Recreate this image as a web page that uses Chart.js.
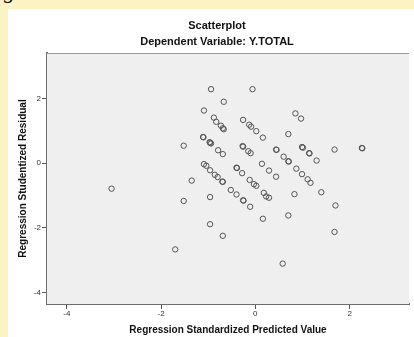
<!DOCTYPE html>
<html>
<head>
<meta charset="utf-8">
<script src="https://cdn.jsdelivr.net/npm/chart.js@4/dist/chart.umd.min.js"></script>
<style>
  html, body { margin: 0; padding: 0; }
  body { width: 414px; height: 337px; background: #fcf3c4; position: relative; overflow: hidden; }
  #panel { position: absolute; left: 8px; top: 9px; right: 0; bottom: 0; background: #ffffff; }
  #hand { position: absolute; left: 4px; top: -22px; font: italic 22px "Liberation Serif", serif; color: #111; }
  #wrap { position: absolute; left: 0; top: 0; width: 414px; height: 337px; }
</style>
</head>
<body>
<div id="panel"></div>
<div id="hand">g</div>
<div id="wrap"><canvas id="chart" width="414" height="337"></canvas></div>
<script>
// values
var predicted = [
  -3.05, -1.52, -1.35, -1.52, -1.70, -0.94, -0.06, -0.67, -1.09, -0.88,
  -0.83, -0.73, -0.69, -0.67, -0.26, -0.13, -0.09, 0.02, -1.11, -1.10,
  -0.97, -0.96, -0.94, -0.79, -0.69, -0.27, -0.26, -0.15, -0.10, -1.09,
  -1.04, -0.96, -0.86, -0.80, -0.70, -0.69, -0.40, -0.39, -0.28, -0.12,
  -0.03, 0.02, -0.52, -0.40, -0.26, -0.25, -0.11, -0.96, -0.96, -0.69,
  0.85, 0.97, 0.70, 0.16, 0.44, 0.45, 0.60, 0.70, 0.71, 0.99,
  1.01, 1.14, 1.15, 1.30, 0.14, 0.29, 0.44, 0.87, 0.99, 1.11,
  1.17, 0.18, 0.23, 0.29, 0.83, 0.16, 0.70, 0.58, 1.68, 2.26,
  2.27, 1.40, 1.70, 1.68
];
var residual = [
  -0.79, 0.54, -0.54, -1.17, -2.67, 2.29, 2.29, 1.90, 1.63, 1.41,
  1.28, 1.16, 1.08, 1.05, 1.34, 1.19, 1.13, 0.99, 0.81, 0.80,
  0.65, 0.63, 0.61, 0.40, 0.28, 0.53, 0.51, 0.37, 0.31, -0.03,
  -0.08, -0.22, -0.36, -0.43, -0.57, -0.58, -0.14, -0.15, -0.31, -0.52,
  -0.65, -0.70, -0.83, -0.97, -1.15, -1.16, -1.35, -1.05, -1.89, -2.25,
  1.54, 1.38, 0.90, 0.79, 0.42, 0.41, 0.20, 0.06, 0.05, 0.50,
  0.48, 0.31, 0.30, 0.08, -0.02, -0.23, -0.42, -0.17, -0.34, -0.50,
  -0.61, -0.92, -1.03, -1.07, -0.96, -1.72, -1.62, -3.11, 0.42, 0.47,
  0.46, -0.90, -1.31, -2.13
];
var xTicks = [-4, -2, 0, 2];
var yTicks = [-4, -2, 0, 2];

var points = [];
for (var i = 0; i < predicted.length; i++) {
  points.push({x: predicted[i], y: residual[i]});
}

var fontFam = '"Liberation Sans", Arial, sans-serif';

var plotBox = {
  id: 'plotBox',
  beforeDatasetsDraw: function(chart) {
    var a = chart.chartArea, c = chart.ctx;
    c.save();
    c.fillStyle = '#efefef';
    c.fillRect(a.left, a.top, a.right - a.left, a.bottom - a.top);
    c.strokeStyle = '#9a9a9a';
    c.lineWidth = 1;
    c.beginPath();
    c.moveTo(a.left, a.top + 0.5);
    c.lineTo(a.right, a.top + 0.5);
    c.stroke();
    c.restore();
  },
  afterDraw: function(chart) {
    var c = chart.ctx;
    c.save();
    c.fillStyle = '#111';
    c.textAlign = 'center';
    c.textBaseline = 'middle';
    c.font = 'bold 11px ' + fontFam;
    c.fillText('Scatterplot', 217, 26);
    c.fillText('Dependent Variable: Y.TOTAL', 217, 42);
    c.restore();
  }
};

new Chart(document.getElementById('chart'), {
  type: 'scatter',
  data: {
    datasets: [{
      data: points,
      pointRadius: 2.7,
      pointBorderWidth: 1,
      pointBorderColor: '#555555',
      pointBackgroundColor: 'rgba(0,0,0,0)'
    }]
  },
  options: {
    responsive: false,
    animation: false,
    layout: { padding: { left: 0, top: 53, right: 0, bottom: 0 } },
    plugins: { legend: { display: false }, tooltip: { enabled: false } },
    scales: {
      x: {
        min: -4.42, max: 3.26,
        afterBuildTicks: function(s) { s.ticks = xTicks.map(function(v) { return {value: v}; }); },
        afterFit: function(s) { s.height = 33; },
        grid: { drawOnChartArea: false, drawTicks: true, tickLength: 5, color: '#555', lineWidth: 1 },
        border: { display: true, color: '#6e6e6e', width: 2 },
        ticks: { color: '#333', padding: 0, font: { family: fontFam, size: 8 } },
        title: { display: true, text: 'Regression Standardized Predicted Value', color: '#111',
                 font: { family: fontFam, size: 10, weight: 'bold' }, padding: { top: 0, bottom: 1 } }
      },
      y: {
        min: -4.36, max: 3.41,
        afterBuildTicks: function(s) { s.ticks = yTicks.map(function(v) { return {value: v}; }); },
        afterFit: function(s) { s.width = 47; },
        grid: { drawOnChartArea: false, drawTicks: true, tickLength: 5, color: '#555', lineWidth: 1 },
        border: { display: true, color: '#6e6e6e', width: 2 },
        ticks: { color: '#333', padding: 1, font: { family: fontFam, size: 8 } },
        title: { display: true, text: 'Regression Studentized Residual', color: '#111',
                 font: { family: fontFam, size: 10, weight: 'bold' }, padding: { top: 17, bottom: 0 } }
      }
    }
  },
  plugins: [plotBox]
});
</script>
</body>
</html>
